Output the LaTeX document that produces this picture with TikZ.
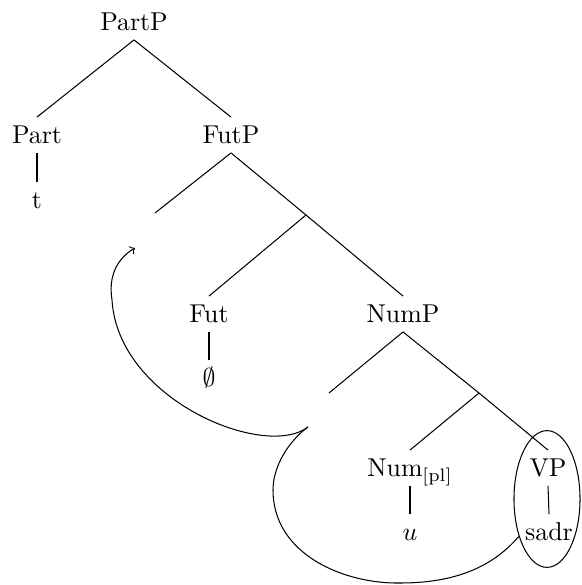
\documentclass[tikz,border=0pt]{standalone}
\usetikzlibrary{shapes.geometric}
\begin{document}
\begin{tikzpicture}[x=0.3876pt, y=-0.3876pt,
  lbl/.style={inner sep=3.33pt, text height=6.83pt, text depth=0pt},
  ring/.style={draw, ellipse, inner sep=0pt, minimum width=25.6pt, minimum height=53pt},
  movement/.style={->}]
\useasboundingbox (0,0) rectangle (581,585);

% tree labels
\node[lbl] (PartP) at (134,22) {PartP};
\node[lbl] (Part) at (37,135) {Part};
\node[lbl] (t) at (37,200) {t};
\node[lbl] (FutP) at (231,135) {FutP};
\coordinate (futspec) at (155,213);
\coordinate (futbar) at (306,215);
\node[lbl] (Fut) at (209,314) {Fut};
\node[lbl] (null) at (209,378) {$\emptyset$};
\node[lbl] (NumP) at (403,314) {NumP};
\coordinate (numspec) at (329,393);
\coordinate (numbar) at (479,393);
\node[lbl] (Num) at (410,468) {Num$_{\mathrm{[pl]}}$};
\node[lbl] (u) at (410,532) {$u$};
\node[lbl] (VP) at (548,468) {VP};
\node[lbl] (sadr) at (549,532) {sadr};

% branches
\draw (PartP.south) -- (Part.north);
\draw (PartP.south) -- (FutP.north);
\draw (Part.south) -- (t.north);
\draw (FutP.south) -- (futspec);
\draw (FutP.south) -- (futbar);
\draw (futbar) -- (Fut.north);
\draw (futbar) -- (NumP.north);
\draw (Fut.south) -- (null.north);
\draw (NumP.south) -- (numspec);
\draw (NumP.south) -- (numbar);
\draw (numbar) -- (Num.north);
\draw (numbar) -- (VP.north);
\draw (Num.south) -- (u.north);
\draw (VP.south) -- (sadr.north);

% ring around the moved VP
\node[ring] (vpring) at (547,499) {};

% movement path
\coordinate (low) at (400,583);
\coordinate (wide) at (273,490);
\coordinate (cusp) at (308,427);
\coordinate (bend) at (112,300);
\coordinate (tip) at (135,248);
\draw (vpring.233) .. controls (490,570) and (450,583) .. (low)
  .. controls (345,584) and (273,555) .. (wide)
  .. controls (273,465) and (290,440) .. (cusp);
\draw[movement] (cusp) .. controls (265,460) and (118,400) .. (bend)
  .. controls (108,275) and (118,258) .. (tip);
\end{tikzpicture}
\end{document}
